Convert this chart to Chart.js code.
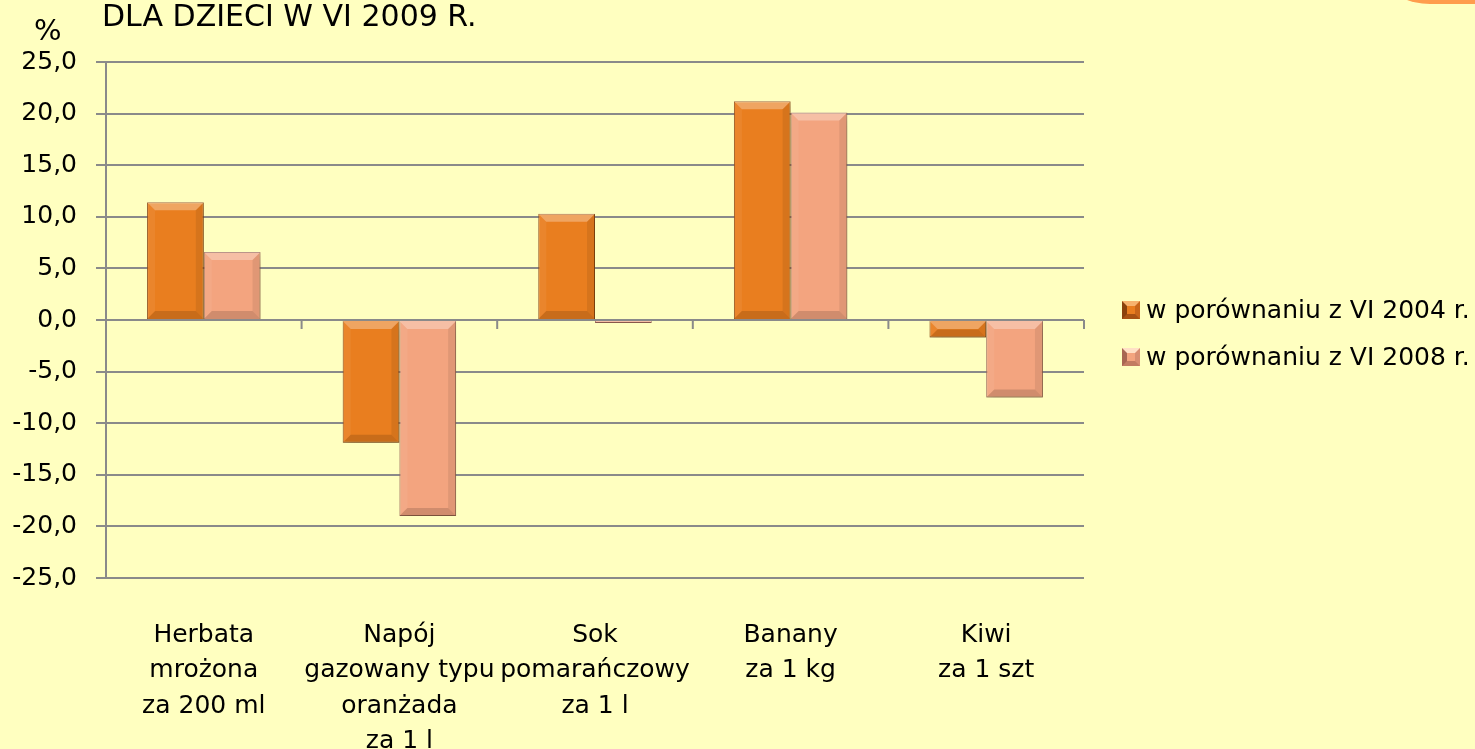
<!DOCTYPE html>
<html>
<head>
<meta charset="utf-8">
<script src="https://cdn.jsdelivr.net/npm/chart.js@4.4.0/dist/chart.umd.min.js"></script>
<style>
  html, body { margin: 0; padding: 0; background: #FFFFC0; overflow: hidden; }
  #wrap { position: relative; width: 1475px; height: 749px; background: #FFFFC0; }
  #chart { position: absolute; left: 0; top: 0; }
  #title { position: absolute; left: 102px; top: 1px; font: 30px 'DejaVu Sans'; line-height: 30px; color: #000; white-space: nowrap; }
  #unit { position: absolute; left: 34px; top: 16px; font: 29px 'DejaVu Sans'; line-height: 29px; color: #000; }
  #corner { position: absolute; left: 1390px; top: -40px; width: 120px; height: 44px; background: #FF9D4D; border-bottom-left-radius: 40px 22px; }
  #legend { position: absolute; left: 1122px; top: 286px; font: 25px 'DejaVu Sans'; color: #000; }
  .item { display: flex; align-items: center; height: 47px; white-space: nowrap; }
  .box { width: 8px; height: 8px; border: 5px solid; margin-right: 6px; }
  .b1 { background: #E97E1F; border-color: #F7B36E #C8661A #A85212 #8A420C; }
  .b2 { background: #F3A47F; border-color: #FFE0C6 #D88E72 #C27C62 #A86652; }
</style>
</head>
<body>
<div id="wrap">
  <canvas id="chart" width="1475" height="749"></canvas>
  <div id="title">DLA DZIECI W VI 2009 R.</div>
  <div id="unit">%</div>
  <div id="corner"></div>
  <div id="legend">
    <div class="item"><span class="box b1"></span>w porównaniu z VI 2004 r.</div>
    <div class="item"><span class="box b2"></span>w porównaniu z VI 2008 r.</div>
  </div>
</div>
<script>
// categories and values
const categories = [
    ['Herbata', 'mrożona', 'za 200 ml'],
    ['Napój', 'gazowany typu', 'oranżada', 'za 1 l'],
    ['Sok', 'pomarańczowy', 'za 1 l'],
    ['Banany', 'za 1 kg'],
    ['Kiwi', 'za 1 szt']
];
const seriesNames = ['w porównaniu z VI 2004 r.', 'w porównaniu z VI 2008 r.'];
const vs2004 = [11.4, -11.9, 10.3, 21.2, -1.7];
const vs2008 = [6.6, -19.0, -0.3, 20.1, -7.5];
const yMin = -25, yMax = 25, yStep = 5;

const fillColors = ['#E97E1F', '#F3A47F'];
const edgeColors = ['#8E4612', '#A0685A'];

// short tick marks on the zero line between categories
const zeroTicks = {
    id: 'zeroTicks',
    beforeDatasetsDraw(chart) {
        const x = chart.scales.x, y = chart.scales.y;
        const y0 = y.getPixelForValue(0);
        const ctx = chart.ctx;
        ctx.save();
        ctx.strokeStyle = '#8A8A8A';
        ctx.lineWidth = 2;
        for (let i = 0; i <= categories.length; i++) {
            const px = x.getPixelForValue(i - 0.5);
            ctx.beginPath();
            ctx.moveTo(px, y0);
            ctx.lineTo(px, y0 + 9);
            ctx.stroke();
        }
        ctx.restore();
    }
};

// soft shadow under the bars and a bevel on top of them
const bevel = {
    id: 'bevel',
    beforeDatasetsDraw(chart) {
        const ctx = chart.ctx;
        ctx.save();
        ctx.shadowColor = 'rgba(90,70,0,0.28)';
        ctx.shadowBlur = 9;
        ctx.shadowOffsetX = 3;
        ctx.shadowOffsetY = 6;
    },
    afterDatasetsDraw(chart) {
        const ctx = chart.ctx;
        ctx.restore();
        chart.data.datasets.forEach((ds, di) => {
            chart.getDatasetMeta(di).data.forEach(bar => {
                const p = bar.getProps(['x', 'y', 'base', 'width'], true);
                const l = p.x - p.width / 2, r = p.x + p.width / 2;
                const t = Math.min(p.y, p.base), b = Math.max(p.y, p.base);
                const s = Math.min(8, (b - t) / 2, p.width / 2);
                if (s < 1) return;
                const face = (pts, col) => {
                    ctx.beginPath();
                    ctx.moveTo(pts[0][0], pts[0][1]);
                    for (let k = 1; k < pts.length; k++) ctx.lineTo(pts[k][0], pts[k][1]);
                    ctx.closePath();
                    ctx.fillStyle = col;
                    ctx.fill();
                };
                ctx.save();
                face([[l, t], [r, t], [r - s, t + s], [l + s, t + s]], 'rgba(255,255,255,0.30)');
                face([[l, t], [l + s, t + s], [l + s, b - s], [l, b]], 'rgba(255,255,255,0.06)');
                face([[r, t], [r, b], [r - s, b - s], [r - s, t + s]], 'rgba(0,0,0,0.08)');
                face([[l, b], [l + s, b - s], [r - s, b - s], [r, b]], 'rgba(0,0,0,0.14)');
                ctx.restore();
            });
        });
    }
};

Chart.defaults.font.family = "'DejaVu Sans'";
Chart.defaults.color = '#000';

new Chart(document.getElementById('chart'), {
    type: 'bar',
    data: {
        labels: categories,
        datasets: [
            { label: seriesNames[0], data: vs2004, backgroundColor: fillColors[0], borderColor: edgeColors[0], borderWidth: 1 },
            { label: seriesNames[1], data: vs2008, backgroundColor: fillColors[1], borderColor: edgeColors[1], borderWidth: 1 }
        ]
    },
    options: {
        responsive: false,
        animation: false,
        layout: { padding: { top: 62, right: 391, bottom: 0, left: 0 } },
        datasets: { bar: { categoryPercentage: 0.58, barPercentage: 1.0 } },
        plugins: {
            legend: { display: false },
            tooltip: { enabled: false }
        },
        scales: {
            x: {
                grid: { display: false, drawTicks: false },
                border: { display: false },
                ticks: { font: { size: 25, lineHeight: 1.41 }, padding: 40, maxRotation: 0, autoSkip: false },
                afterFit(scale) { scale.height = 171; }
            },
            y: {
                min: yMin,
                max: yMax,
                ticks: {
                    stepSize: yStep,
                    font: { size: 25 },
                    padding: 19,
                    callback: v => v.toFixed(1).replace('.', ',')
                },
                grid: { color: '#8A8A8A', lineWidth: 2, tickLength: 10 },
                border: { display: true, color: '#8A8A8A', width: 2 },
                afterFit(scale) { scale.width = 106; }
            }
        }
    },
    plugins: [zeroTicks, bevel]
});
</script>
</body>
</html>
